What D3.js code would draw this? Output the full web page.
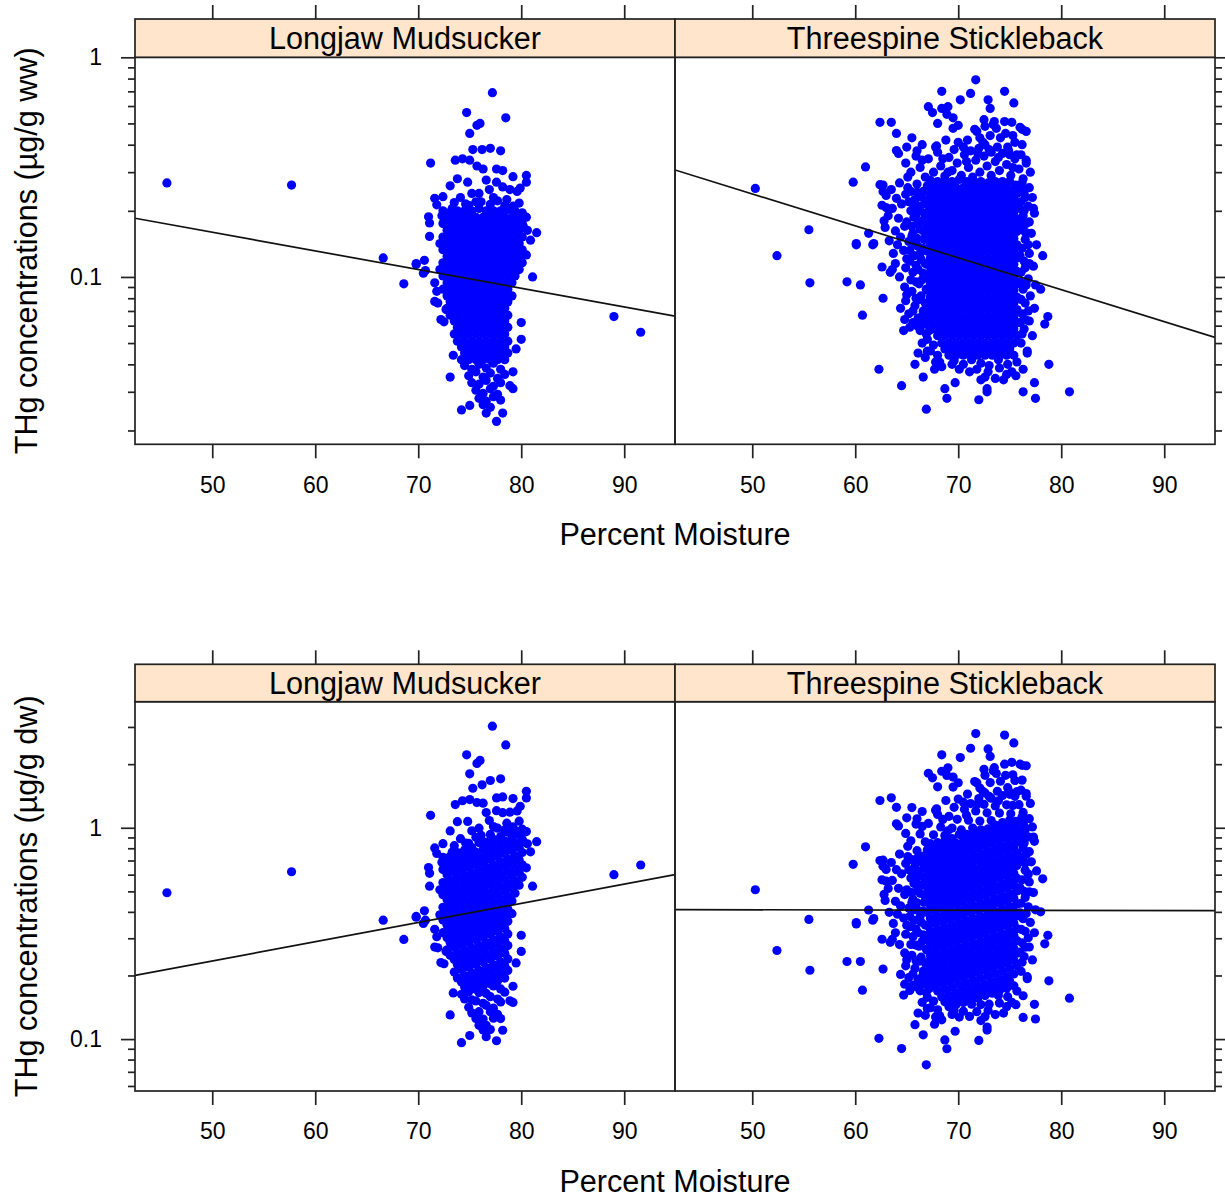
<!DOCTYPE html>
<html><head><meta charset="utf-8">
<script src="https://cdn.jsdelivr.net/npm/d3@7"></script>
<style>
body{margin:0;background:#fff}
text{font-family:"Liberation Sans",Arial,Helvetica,sans-serif;fill:#000}
</style>
</head><body>
<svg id="chart" width="1225" height="1197"></svg>
<script>
// ---------------- DATA ----------------
const species = ["Longjaw Mudsucker", "Threespine Stickleback"];
const xTicks = [50, 60, 70, 80, 90];
const xDomain = [42.5, 94.93];
const yTicksWW = [0.02,0.03,0.04,0.05,0.06,0.07,0.08,0.09,0.1,0.2,0.3,0.4,0.5,0.6,0.7,0.8,0.9,1];
const yTicksDW = [0.06,0.07,0.08,0.09,0.1,0.2,0.3,0.4,0.5,0.6,0.7,0.8,0.9,1,2,3];
const yLabelTicks = [0.1, 1];
const yDomainWW = [0.0173, 1.0];
const yDomainDW = [0.0568, 3.95];

// Regression fits: log10(THg) = intercept + slope * moisture
const fitWW = [[-0.3718, -0.008493], [0.1051, -0.014542]];
const fitDW = [[-1.0860, 0.009107], [-0.3829, -0.000101]];

// Longjaw Mudsucker: [percent moisture, THg ug/g ww] (scattered points)
const mudsuckerPoints = [
[45.6,0.268],[57.7,0.262],[66.6,0.122],[68.6,0.093],[69.8,0.114],[70.7,0.107],[89.0,0.066],[91.6,0.056],
[77.2,0.69],[74.7,0.56],[78.5,0.53],[76.0,0.50],[75.7,0.49],[75.0,0.45],[71.2,0.33],
[75.3,0.38],[76.2,0.38],[77.0,0.385],[78.0,0.375],
[73.6,0.34],[74.3,0.345],[75.0,0.34],[75.7,0.32],[76.3,0.31],[77.6,0.31],[78.2,0.305],
[79.2,0.286],[80.5,0.29],[80.5,0.27],[73.8,0.28],[73.1,0.26],
[71.6,0.228],[71.8,0.213],[72.4,0.232],[74.1,0.23],[75.2,0.24],[75.9,0.24],
[76.6,0.276],[77.6,0.27],[78.2,0.257],[78.9,0.25],[79.6,0.245],[79.9,0.254],
[74.8,0.27],[76.9,0.25],[77.3,0.23],[78.6,0.225],[74.6,0.215],[76.1,0.22],[73.3,0.205],[79.2,0.21],
[71.0,0.188],[71.1,0.176],[72.3,0.19],[80.4,0.188],[80.2,0.17],[81.5,0.159],[80.9,0.147],[71.1,0.153],
[69.8,0.115],[70.6,0.119],[70.5,0.104],[71.6,0.094],[71.8,0.086],[71.6,0.0774],[71.9,0.076],[72.7,0.071],
[72.2,0.064],[72.5,0.0625],[73.4,0.044],[73.1,0.035],[74.2,0.0248],[75.0,0.026],[76.6,0.024],[77.6,0.022],
[78.2,0.024],[80.0,0.062],[80.0,0.052],[79.5,0.047],[80.5,0.126],[81.1,0.1],[79.2,0.037],[78.9,0.032],[79.2,0.031],
[73.5,0.218],[74.9,0.212],[75.6,0.22],[77.0,0.214],[77.7,0.222],[78.4,0.211],[79.8,0.217],
[73.1,0.197],[75.9,0.205],[78.7,0.203],[80.1,0.196],
[74.5,0.0395],[75.2,0.038],[75.9,0.04],[76.6,0.0385],[77.3,0.0405],[78.0,0.038],[74.9,0.0355],[75.6,0.037],
[76.3,0.035],[77.0,0.0365],[77.7,0.0345],[78.4,0.036],[75.2,0.033],[75.9,0.0325],[76.6,0.0338],[77.3,0.0318],
[78.0,0.033],[75.6,0.0305],[76.3,0.0295],[77.0,0.031],[77.7,0.0292],[75.9,0.028],[76.6,0.0272],[77.3,0.0285],
[78.0,0.0275],[76.3,0.0262],[77.0,0.0255]
];
// Longjaw Mudsucker dense core, listed by THg level: [THg ug/g ww, [percent moisture...]]
const mudsuckerCore = [
[0.2,[72.4,73.8,74.5,75.2,76.6,77.3,78.0,79.4]],
[0.187,[72.8,73.5,74.2,74.9,75.6,76.3,77.0,77.7,78.4,79.1,79.8,80.5]],
[0.175,[72.4,73.1,73.8,74.5,75.2,75.9,76.6,77.3,78.0,78.7,79.4,80.1]],
[0.163,[72.8,73.5,74.2,74.9,75.6,76.3,77.0,77.7,78.4,79.1,79.8,80.6]],
[0.152,[72.4,73.1,73.8,74.5,75.2,75.9,76.6,77.3,78.0,78.7,79.4,80.1]],
[0.142,[72.1,72.8,73.5,74.2,74.9,75.6,76.3,77.0,77.7,78.4,79.1,79.8]],
[0.133,[72.4,73.1,73.8,74.5,75.2,75.9,76.6,77.3,78.0,78.7,79.4,80.1]],
[0.124,[72.8,73.5,74.2,74.9,75.6,76.3,77.0,77.7,78.4,79.1,79.8]],
[0.116,[72.4,73.1,73.8,74.5,75.2,75.9,76.6,77.3,78.0,78.7,79.4,80.1]],
[0.108,[72.1,72.8,73.5,74.2,74.9,75.6,76.3,77.0,77.7,78.4,79.1,79.8]],
[0.101,[72.4,73.1,73.8,74.5,75.2,75.9,76.6,77.3,78.0,78.7,79.4]],
[0.094,[72.8,73.5,74.2,74.9,75.6,76.3,77.0,77.7,78.4,79.1]],
[0.088,[72.4,73.1,73.8,74.5,75.2,75.9,76.6,77.3,78.0,78.7]],
[0.082,[72.8,73.5,74.2,74.9,75.6,76.3,77.0,77.7,78.4,79.1]],
[0.077,[73.1,73.8,74.5,75.2,75.9,76.6,77.3,78.0,78.7]],
[0.072,[72.8,73.5,74.2,74.9,75.6,76.3,77.0,77.7,78.4]],
[0.067,[73.1,73.8,74.5,75.2,75.9,76.6,77.3,78.0,78.7]],
[0.063,[73.5,74.2,74.9,75.6,76.3,77.0,77.7,78.4]],
[0.059,[73.8,74.5,75.2,75.9,76.6,77.3,78.0,78.7]],
[0.055,[73.5,74.2,74.9,75.6,76.3,77.0,77.7,78.4]],
[0.051,[73.8,74.5,75.2,75.9,76.6,77.3,78.0,78.7]],
[0.048,[74.2,74.9,75.6,76.3,77.0,77.7,78.4]],
[0.045,[74.5,75.2,75.9,76.6,77.3,78.0,78.7]],
[0.042,[74.2,74.9,75.6,76.3,77.0,77.7,78.4]]
];

// Threespine Stickleback: [percent moisture, THg ug/g ww] (scattered points)
const sticklebackPoints = [
[71.7,0.79],[68.4,0.70],[71.2,0.685],[74.5,0.70],[70.2,0.64],[72.9,0.64],[73.1,0.585],[75.4,0.62],
[67.1,0.596],[67.5,0.56],[68.4,0.585],[69.0,0.596],[68.9,0.55],[69.5,0.53],[70.0,0.49],[69.5,0.475],[68.0,0.50],
[62.4,0.506],[63.5,0.506],[72.5,0.52],[73.5,0.51],[74.5,0.51],[75.2,0.506],[73.7,0.475],[76.0,0.48],[76.6,0.46],
[71.8,0.46],[72.1,0.43],[73.1,0.44],[74.1,0.43],[64.0,0.45],[65.5,0.43],[66.5,0.40],[75.5,0.41],[64.0,0.376],
[71.6,0.47],[72.6,0.485],[73.4,0.495],[74.6,0.45],[75.3,0.44],[76.2,0.47],[72.4,0.41],[74.8,0.39],[76.2,0.40],
[65.0,0.39],[67.8,0.39],[70.5,0.39],[72.0,0.385],[73.8,0.39],[68.8,0.42],[70.9,0.42],
[73.2,0.37],[75.0,0.36],[75.7,0.36],[76.6,0.34],[61.0,0.317],[59.8,0.27],[50.3,0.253],[77.3,0.205],[55.5,0.164],
[62.4,0.263],[62.7,0.245],[63.0,0.207],[62.8,0.18],[61.3,0.158],[60.1,0.142],[61.8,0.142],
[52.4,0.125],[55.6,0.094],[59.2,0.095],[60.5,0.092],[60.7,0.067],[62.7,0.080],[62.3,0.038],[64.5,0.032],
[66.9,0.025],[68.7,0.031],[68.9,0.028],[72.0,0.0276],[72.8,0.031],[72.8,0.030],[76.3,0.030],[77.5,0.028],
[80.8,0.030],[78.8,0.040],[77.4,0.033],[78.2,0.125],[78.0,0.088],[78.7,0.066],[78.4,0.061],[60.1,0.14],
[61.7,0.14],[62.6,0.111],[63.4,0.105],[64.7,0.057],[65.3,0.059],[66.1,0.045],[67.0,0.046],[65.8,0.04],
[66.6,0.035],[67.7,0.038],[68.2,0.041],[69.7,0.033],[71.1,0.037],[72.2,0.034],[74.4,0.034],[74.7,0.036],
[76.3,0.038],[76.7,0.045],
// upper band
[64.2,0.365],[64.9,0.33],[65.4,0.30],[65.9,0.355],[66.3,0.315],[66.8,0.285],[67.1,0.345],[67.6,0.30],
[68.0,0.37],[68.3,0.32],[68.7,0.288],[69.1,0.35],[69.4,0.305],[69.9,0.33],[70.3,0.29],[70.6,0.36],
[71.0,0.315],[71.4,0.285],[71.7,0.34],[72.1,0.30],[72.5,0.355],[72.8,0.32],[73.2,0.29],[73.6,0.335],
[74.0,0.305],[74.3,0.365],[74.7,0.325],[75.1,0.29],[75.5,0.345],[75.9,0.31],[76.3,0.28],[76.6,0.33],
[77.0,0.30],[65.1,0.285],[67.9,0.395],[69.6,0.38],[71.2,0.375],[73.0,0.38],[74.9,0.375],[76.1,0.36],
[66.0,0.375],[70.0,0.41],[72.6,0.40],[68.5,0.345],[70.8,0.335],[73.9,0.35],[75.3,0.315],[71.9,0.365],
[69.0,0.30],[66.5,0.34],
[67.3,0.275],[70.1,0.278],[72.9,0.268],[75.0,0.272],[75.6,0.262],[67.0,0.26],[75.4,0.25],
// left fringe
[62.7,0.262],[63.5,0.25],[64.3,0.268],[65.1,0.255],[66.0,0.265],[66.6,0.245],[63.0,0.235],[64.0,0.228],
[64.9,0.238],[65.8,0.225],[66.4,0.232],[62.6,0.212],[63.6,0.205],[64.5,0.215],[65.4,0.2],[66.2,0.21],
[63.2,0.19],[64.2,0.185],[65.0,0.178],[65.9,0.192],[66.5,0.18],[62.9,0.168],[63.9,0.162],[64.8,0.17],
[65.6,0.158],[66.3,0.165],[64.4,0.152],
[63.3,0.146],[64.1,0.14],[65.2,0.145],[66.1,0.138],[66.7,0.148],[63.7,0.128],[64.7,0.132],[65.7,0.125],
[66.4,0.12],[63.9,0.115],[64.9,0.11],[65.9,0.113],[66.6,0.104],[64.3,0.1],[65.4,0.097],[66.2,0.093],
[64.8,0.09],[63.6,0.108],[65.0,0.121],
[65.5,0.086],[66.4,0.082],[64.9,0.078],[65.8,0.074],[66.6,0.07],[65.2,0.068],[66.1,0.065],[66.7,0.061],
[65.6,0.062],[66.3,0.057],[64.4,0.072],[65.0,0.083],[66.9,0.055],[64.8,0.064],
[67.0,0.052],[67.6,0.049],[66.5,0.05],[67.3,0.046],[68.0,0.044],[67.8,0.041],[68.4,0.039],[66.8,0.043],
[69.4,0.04],[70.1,0.038],
// near-core left
[66.0,0.243],[66.7,0.215],[66.3,0.2],[66.8,0.19],[66.1,0.176],[66.7,0.16],[66.0,0.15],[66.6,0.135],
[66.3,0.128],[66.8,0.115],[66.1,0.108],[66.5,0.097],[66.9,0.088],[66.2,0.079],[66.8,0.076],[66.5,0.066],
[67.2,0.057],[65.9,0.095],[65.6,0.105],[65.3,0.132],[65.5,0.17],[65.2,0.22],[65.7,0.21],[65.4,0.245],
[65.7,0.187],[65.5,0.153],[65.8,0.14],[65.3,0.118],[65.9,0.08],[65.6,0.07],[66.0,0.06],
// right fringe
[76.2,0.268],[76.9,0.255],[76.4,0.24],[77.2,0.23],[76.1,0.22],[76.8,0.21],[77.4,0.195],[76.3,0.19],
[76.9,0.178],[76.2,0.165],[77.1,0.158],[76.5,0.148],[77.6,0.14],[76.2,0.135],[76.9,0.128],[76.4,0.118],
[77.3,0.112],[76.1,0.105],[76.8,0.098],[77.5,0.092],[76.3,0.088],[77.0,0.082],[76.5,0.076],[77.4,0.072],
[76.2,0.068],[76.9,0.063],[76.4,0.058],[77.2,0.054],[76.1,0.05],[76.7,0.046],
// near-core right
[76.0,0.26],[76.3,0.25],[76.5,0.23],[76.0,0.205],[76.4,0.2],[76.6,0.175],[76.0,0.175],[76.5,0.16],
[76.8,0.14],[76.0,0.125],[76.5,0.11],[76.9,0.115],[76.0,0.095],[76.6,0.092],[76.1,0.079],[76.8,0.07],
[76.0,0.062],[76.5,0.064],[76.2,0.055],
// lower edge
[69.6,0.0415],[70.5,0.04],[71.3,0.042],[72.2,0.0405],[73.0,0.0395],[73.9,0.042],[74.8,0.04],[75.7,0.041],
[71.8,0.038],[72.9,0.037],[74.0,0.0385],[75.2,0.037],[72.6,0.035],[73.6,0.0345],[75.6,0.0355]
];
// Threespine Stickleback dense core, listed by THg level: [THg ug/g ww, [percent moisture...]]
const sticklebackCore = [
[0.272,[68.0,68.7,69.4,70.8,71.5,72.2,73.6,74.3]],
[0.255,[67.7,68.4,69.1,69.8,70.5,71.2,71.9,72.6,73.3,74.0,74.7]],
[0.24,[67.3,68.0,68.7,69.4,70.1,70.8,71.5,72.2,72.9,73.6,74.3,75.0,75.7]],
[0.225,[67.0,67.7,68.4,69.1,69.8,70.5,71.2,71.9,72.6,73.3,74.0,74.7,75.4]],
[0.21,[67.3,68.0,68.7,69.4,70.1,70.8,71.5,72.2,72.9,73.6,74.3,75.0,75.7]],
[0.197,[67.0,67.7,68.4,69.1,69.8,70.5,71.2,71.9,72.6,73.3,74.0,74.7,75.4]],
[0.184,[67.3,68.0,68.7,69.4,70.1,70.8,71.5,72.2,72.9,73.6,74.3,75.0,75.7]],
[0.172,[67.0,67.7,68.4,69.1,69.8,70.5,71.2,71.9,72.6,73.3,74.0,74.7,75.4]],
[0.161,[67.3,68.0,68.7,69.4,70.1,70.8,71.5,72.2,72.9,73.6,74.3,75.0,75.7]],
[0.15,[67.0,67.7,68.4,69.1,69.8,70.5,71.2,71.9,72.6,73.3,74.0,74.7,75.4]],
[0.14,[67.3,68.0,68.7,69.4,70.1,70.8,71.5,72.2,72.9,73.6,74.3,75.0,75.7]],
[0.131,[67.0,67.7,68.4,69.1,69.8,70.5,71.2,71.9,72.6,73.3,74.0,74.7,75.4]],
[0.122,[67.3,68.0,68.7,69.4,70.1,70.8,71.5,72.2,72.9,73.6,74.3,75.0,75.7]],
[0.114,[67.0,67.7,68.4,69.1,69.8,70.5,71.2,71.9,72.6,73.3,74.0,74.7,75.4]],
[0.106,[67.3,68.0,68.7,69.4,70.1,70.8,71.5,72.2,72.9,73.6,74.3,75.0,75.7]],
[0.099,[67.0,67.7,68.4,69.1,69.8,70.5,71.2,71.9,72.6,73.3,74.0,74.7,75.4]],
[0.093,[67.3,68.0,68.7,69.4,70.1,70.8,71.5,72.2,72.9,73.6,74.3,75.0,75.7]],
[0.087,[67.0,67.7,68.4,69.1,69.8,70.5,71.2,71.9,72.6,73.3,74.0,74.7,75.4]],
[0.081,[67.3,68.0,68.7,69.4,70.1,70.8,71.5,72.2,72.9,73.6,74.3,75.0,75.7]],
[0.076,[67.0,67.7,68.4,69.1,69.8,70.5,71.2,71.9,72.6,73.3,74.0,74.7,75.4]],
[0.071,[67.3,68.0,68.7,69.4,70.1,70.8,71.5,72.2,72.9,73.6,74.3,75.0,75.7]],
[0.066,[67.0,67.7,68.4,69.1,69.8,70.5,71.2,71.9,72.6,73.3,74.0,74.7,75.4]],
[0.062,[67.3,68.0,68.7,69.4,70.1,70.8,71.5,72.2,72.9,73.6,74.3,75.0,75.7]],
[0.058,[67.7,68.4,69.1,69.8,70.5,71.2,71.9,72.6,73.3,74.0,74.7,75.4]],
[0.054,[68.0,68.7,69.4,70.1,70.8,71.5,72.2,72.9,73.6,74.3,75.0,75.7]],
[0.05,[68.4,69.1,69.8,70.5,71.2,71.9,72.6,73.3,74.0,74.7,75.4]],
[0.047,[68.7,69.4,70.1,70.8,71.5,72.2,72.9,73.6,74.3,75.0]],
[0.044,[69.1,69.8,70.5,71.2,71.9,72.6,73.3,74.0,74.7,75.4]]
];

// ---------------- BUILD ----------------
const flatten = (pts, core) => pts.concat(core.flatMap(([c, ms]) => ms.map(m => [m, c])));
const speciesData = [flatten(mudsuckerPoints, mudsuckerCore), flatten(sticklebackPoints, sticklebackCore)];

const figures = [
  { key: "ww", stripTop: 19, panelTop: 57.3, panelBottom: 444.3, domain: yDomainWW, ticks: yTicksWW,
    fits: fitWW, title: "THg concentrations (\u00b5g/g ww)", val: d => d[1] },
  { key: "dw", stripTop: 664.3, panelTop: 701.7, panelBottom: 1091, domain: yDomainDW, ticks: yTicksDW,
    fits: fitDW, title: "THg concentrations (\u00b5g/g dw)", val: d => d[1] / (1 - d[0] / 100) }
];
const panelX = [[135, 675], [675, 1215]];
const ink = "#222";
const svg = d3.select("#chart");
const defs = svg.append("defs");

figures.forEach(f => {
  const y = d3.scaleLog().domain(f.domain).range([f.panelBottom, f.panelTop]);
  const minorTicks = f.ticks.filter(t => !yLabelTicks.includes(t));
  species.forEach((name, i) => {
    const x = d3.scaleLinear().domain(xDomain).range(panelX[i]);
    const g = svg.append("g");
    const clipId = `clip-${f.key}-${i}`;
    defs.append("clipPath").attr("id", clipId).append("rect")
      .attr("x", panelX[i][0]).attr("y", f.panelTop)
      .attr("width", panelX[i][1] - panelX[i][0]).attr("height", f.panelBottom - f.panelTop);

    const inner = g.append("g").attr("clip-path", `url(#${clipId})`);
    inner.selectAll("circle").data(speciesData[i]).join("circle")
      .attr("cx", d => x(d[0])).attr("cy", d => y(f.val(d)))
      .attr("r", 4.6).attr("fill", "#0000ff");
    const [a, b] = f.fits[i];
    const line = d3.line().x(d => x(d)).y(d => y(Math.pow(10, a + b * d)));
    inner.append("path").attr("d", line(xDomain)).attr("fill", "none")
      .attr("stroke", "#111").attr("stroke-width", 1.7);

    g.append("rect").attr("x", panelX[i][0]).attr("y", f.panelTop)
      .attr("width", panelX[i][1] - panelX[i][0]).attr("height", f.panelBottom - f.panelTop)
      .attr("fill", "none").attr("stroke", ink).attr("stroke-width", 1.7);
    g.append("rect").attr("x", panelX[i][0]).attr("y", f.stripTop)
      .attr("width", panelX[i][1] - panelX[i][0]).attr("height", f.panelTop - f.stripTop)
      .attr("fill", "#ffe5cc").attr("stroke", ink).attr("stroke-width", 1.7);
    g.append("text").attr("x", (panelX[i][0] + panelX[i][1]) / 2)
      .attr("y", (f.stripTop + f.panelTop) / 2 + 11)
      .attr("text-anchor", "middle").attr("font-size", 30.6).text(name);

    const xb = g.append("g").attr("transform", `translate(0,${f.panelBottom})`)
      .call(d3.axisBottom(x).tickValues(xTicks).tickSize(14).tickPadding(18).tickFormat(d3.format("d")));
    const xt = g.append("g").attr("transform", `translate(0,${f.stripTop})`)
      .call(d3.axisTop(x).tickValues(xTicks).tickSize(14).tickFormat(""));
    [xb, xt].forEach(ax => {
      ax.select(".domain").remove();
      ax.selectAll("line").attr("stroke", ink).attr("stroke-width", 1.7);
      ax.selectAll("text").attr("font-size", 23).attr("fill", "#000")
        .style("font-family", '"Liberation Sans",Arial,sans-serif');
    });

    if (i === 0) {
      const yl = g.append("g").attr("transform", `translate(${panelX[i][0]},0)`)
        .call(d3.axisLeft(y).tickValues(yLabelTicks).tickSize(14).tickPadding(19).tickFormat(d3.format("")));
      const ym = g.append("g").attr("transform", `translate(${panelX[i][0]},0)`)
        .call(d3.axisLeft(y).tickValues(minorTicks).tickSize(7).tickFormat(""));
      [yl, ym].forEach(ax => {
        ax.select(".domain").remove();
        ax.selectAll("line").attr("stroke", ink).attr("stroke-width", 1.7);
        ax.selectAll("text").attr("font-size", 23).attr("fill", "#000")
          .style("font-family", '"Liberation Sans",Arial,sans-serif');
      });
    } else {
      const yr = g.append("g").attr("transform", `translate(${panelX[i][1]},0)`)
        .call(d3.axisRight(y).tickValues(yLabelTicks).tickSize(14).tickFormat(""));
      const yrm = g.append("g").attr("transform", `translate(${panelX[i][1]},0)`)
        .call(d3.axisRight(y).tickValues(minorTicks).tickSize(7).tickFormat(""));
      [yr, yrm].forEach(ax => {
        ax.select(".domain").remove();
        ax.selectAll("line").attr("stroke", ink).attr("stroke-width", 1.7);
      });
    }
  });

  svg.append("text").attr("x", 675).attr("y", f.panelBottom + 100.7)
    .attr("text-anchor", "middle").attr("font-size", 30.6).text("Percent Moisture");
  svg.append("text")
    .attr("transform", `translate(37,${(f.panelTop + f.panelBottom) / 2}) rotate(-90)`)
    .attr("text-anchor", "middle").attr("font-size", 30.6).text(f.title);
});
</script>
</body></html>
